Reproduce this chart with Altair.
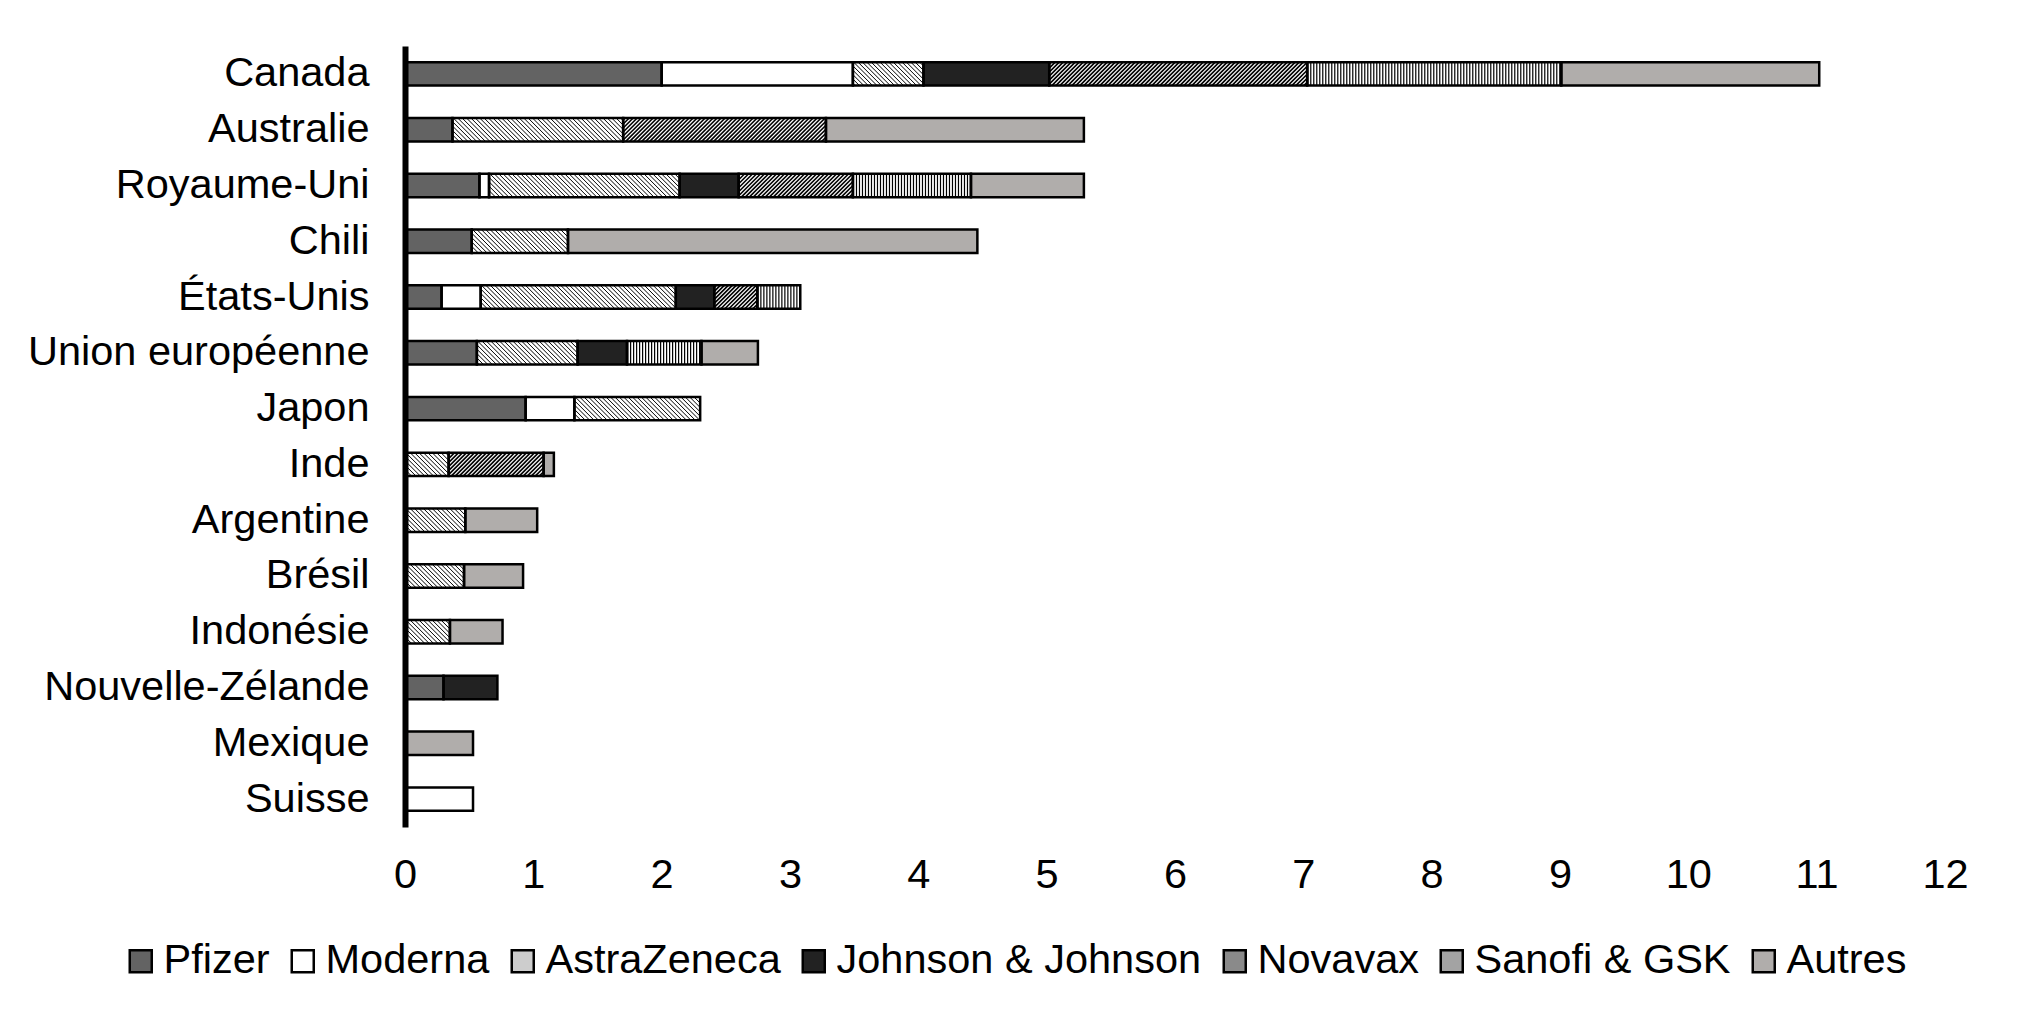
import altair as alt
import numpy as np
import pandas as pd

countries = ["Canada", "Australie", "Royaume-Uni", "Chili", "États-Unis",
             "Union européenne", "Japon", "Inde", "Argentine", "Brésil",
             "Indonésie", "Nouvelle-Zélande", "Mexique", "Suisse"]
vaccines = ["Pfizer", "Moderna", "AstraZeneca", "Johnson & Johnson",
            "Novavax", "Sanofi & GSK", "Autres"]

pfizer      = [2.00, 0.37, 0.58,  0.52, 0.285, 0.56,  0.94, 0.00, 0.00, 0.00, 0.00, 0.30, 0.00, 0.00]
moderna     = [1.49, 0.00, 0.075, 0.00, 0.305, 0.00,  0.38, 0.00, 0.00, 0.00, 0.00, 0.00, 0.00, 0.53]
astrazeneca = [0.55, 1.33, 1.485, 0.75, 1.52,  0.785, 0.98, 0.34, 0.47, 0.46, 0.35, 0.00, 0.00, 0.00]
johnson     = [0.98, 0.00, 0.46,  0.00, 0.30,  0.385, 0.00, 0.00, 0.00, 0.00, 0.00, 0.42, 0.00, 0.00]
novavax     = [2.01, 1.58, 0.89,  0.00, 0.335, 0.00,  0.00, 0.74, 0.00, 0.00, 0.00, 0.00, 0.00, 0.00]
sanofi      = [1.98, 0.00, 0.92,  0.00, 0.335, 0.58,  0.00, 0.00, 0.00, 0.00, 0.00, 0.00, 0.00, 0.00]
autres      = [2.01, 2.01, 0.88,  3.19, 0.00,  0.44,  0.00, 0.08, 0.56, 0.46, 0.41, 0.00, 0.53, 0.00]

series = [pfizer, moderna, astrazeneca, johnson, novavax, sanofi, autres]
legend_colors = ["#636363", "#ffffff", "#cdcdcd", "#222222", "#8a8a8a", "#a3a3a3", "#b0adab"]
hatched = {"AstraZeneca", "Novavax", "Sanofi & GSK"}

W, H = 1540, 781
XMAX = 12
HALF = 0.21  # half bar thickness in category units
PX_X = W / XMAX
PX_Y = H / len(countries)
FONT = "Liberation Sans"
FS = 41.5

rows = []
for i, c in enumerate(countries):
    acc = 0.0
    for v, vals in zip(vaccines, series):
        val = vals[i]
        if val <= 0:
            continue
        rows.append({"country": c, "idx": i, "vaccine": v, "start": acc,
                     "end": acc + val, "y0": i - HALF, "y1": i + HALF})
        acc += val
df = pd.DataFrame(rows)
df_hatch = df[df["vaccine"].isin(hatched)]


def diag_lines(sub, direction, spacing_px):
    d = 2 * HALF * PX_Y / PX_X
    s = spacing_px / PX_X
    out = []
    for _, r in sub.iterrows():
        a, b, yc = r["start"], r["end"], r["idx"]
        for x0 in np.arange(a - d + s / 2, b, s):
            t0 = max(0.0, (a - x0) / d)
            t1 = min(1.0, (b - x0) / d)
            if t1 <= t0:
                continue
            if direction == "back":
                ya = yc - HALF + 2 * HALF * t0
                yb = yc - HALF + 2 * HALF * t1
            else:
                ya = yc + HALF - 2 * HALF * t0
                yb = yc + HALF - 2 * HALF * t1
            out.append({"lx0": x0 + t0 * d, "lx1": x0 + t1 * d, "ly0": ya, "ly1": yb})
    return pd.DataFrame(out)


az_lines = diag_lines(df[df["vaccine"] == "AstraZeneca"], "back", 4.4)
nv_lines = diag_lines(df[df["vaccine"] == "Novavax"], "fwd", 4.0)
sa_rows = df[df["vaccine"] == "Sanofi & GSK"]

label_expr = "[" + ",".join("'" + c + "'" for c in countries) + "][datum.value]"

x_axis = alt.Axis(values=list(range(0, XMAX + 1)), title=None, grid=False, ticks=False,
                  domain=False, labelFont=FONT, labelFontSize=FS, labelColor="black",
                  labelPadding=27, labelFlush=False)
y_axis = alt.Axis(values=list(range(len(countries))), labelExpr=label_expr, title=None,
                  grid=False, ticks=False, domain=True, domainColor="black", domainWidth=6,
                  labelFont=FONT, labelFontSize=FS, labelColor="black", labelPadding=36,
                  labelLimit=600, zindex=1)
x_scale = alt.Scale(domain=[0, XMAX], nice=False, zero=False)
y_scale = alt.Scale(domain=[-0.5, len(countries) - 0.5], reverse=True, nice=False, zero=False)


def X(f):
    return alt.X(f, type="quantitative", scale=x_scale, axis=x_axis)


def Y(f):
    return alt.Y(f, type="quantitative", scale=y_scale, axis=y_axis)


base = alt.Chart(df).mark_rect().encode(
    x=X("start"), x2="end", y=Y("y0"), y2="y1",
    color=alt.Color("vaccine:N", sort=vaccines,
                    scale=alt.Scale(domain=vaccines, range=legend_colors),
                    legend=alt.Legend(orient="none", direction="horizontal", columns=7,
                                      legendX=-285, legendY=894, title=None,
                                      labelFont=FONT, labelFontSize=FS, labelColor="black",
                                      labelLimit=600, symbolType="square", symbolSize=484,
                                      symbolStrokeColor="black", symbolStrokeWidth=2.5,
                                      labelOffset=2, columnPadding=12, padding=0)),
)
white = alt.Chart(df_hatch).mark_rect(fill="white").encode(
    x=X("start"), x2="end", y=Y("y0"), y2="y1")
az = alt.Chart(az_lines).mark_rule(color="black", strokeWidth=1.0).encode(
    x=X("lx0"), x2="lx1", y=Y("ly0"), y2="ly1")
nv = alt.Chart(nv_lines).mark_rule(color="black", strokeWidth=1.6).encode(
    x=X("lx0"), x2="lx1", y=Y("ly0"), y2="ly1")
sa = alt.Chart(sa_rows).mark_rule(color="black", strokeWidth=2 * HALF * PX_Y,
                                  strokeDash=[1.2, 1.8], strokeCap="butt").encode(
    x=X("start"), x2="end", y=Y("idx"))
outline = alt.Chart(df).mark_rect(fillOpacity=0, stroke="black", strokeWidth=2.5).encode(
    x=X("start"), x2="end", y=Y("y0"), y2="y1")

chart = alt.layer(base, white, az, nv, sa, outline).properties(
    width=W, height=H,
    autosize=alt.AutoSizeParams(type="none"),
    padding={"left": 397, "top": 38, "right": 50, "bottom": 170},
    background="white",
).configure_view(stroke=None)

chart.save("out.html", embed_options={"renderer": "svg", "actions": False})
